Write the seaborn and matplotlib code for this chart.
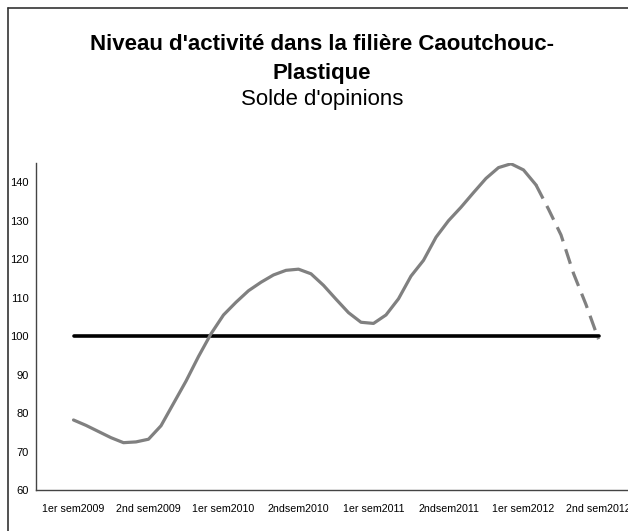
"""
Niveau d'activité dans la filière Caoutchouc-Plastique : solde d'opinions semestriel.
"""

import pandas as pd
import matplotlib
matplotlib.use("Agg")
import matplotlib.pyplot as plt
import seaborn as sns
from matplotlib.lines import Line2D

# Données
semestres = ["1er sem2009", "2nd sem2009", "1er sem2010", "2ndsem2010",
             "1er sem2011", "2ndsem2011", "1er sem2012", "2nd sem2012"]

# mois écoulés depuis le milieu du 1er semestre 2009
mois_observe = list(range(0, 38))
solde_observe = [78.2, 76.8, 75.2, 73.6, 72.3, 72.5, 73.2, 76.7, 82.5, 88.3,
                 94.7, 100.6, 105.5, 108.8, 111.8, 114.0, 115.9, 117.1, 117.4, 116.2,
                 113.2, 109.6, 106.1, 103.6, 103.3, 105.5, 109.7, 115.6, 119.7, 125.7,
                 130.0, 133.5, 137.3, 141.0, 143.8, 144.8, 143.2, 139.3]

mois_prevision = list(range(37, 43))
solde_prevision = [139.3, 133.0, 126.3, 116.3, 108.2, 99.2]

seuil = 100


def main():
    sns.set_style("white")
    plt.rcParams["font.family"] = ["Liberation Sans", "DejaVu Sans"]
    plt.rcParams["text.color"] = "black"
    plt.rcParams["xtick.labelcolor"] = "black"
    plt.rcParams["ytick.labelcolor"] = "black"

    # position en semestres (0.5 = centre du premier semestre)
    df_obs = pd.DataFrame({"pos": [0.5 + m / 6 for m in mois_observe], "solde": solde_observe})
    df_prev = pd.DataFrame({"pos": [0.5 + m / 6 for m in mois_prevision], "solde": solde_prevision})
    df_seuil = pd.DataFrame({"pos": [df_obs["pos"].iloc[0], df_prev["pos"].iloc[-1]],
                             "solde": [seuil, seuil]})

    fig = plt.figure(figsize=(6.28, 5.31), dpi=100)
    ax = fig.add_axes([36 / 628, 1 - 490 / 531, 600 / 628, (490 - 163) / 531])

    sns.lineplot(data=df_seuil, x="pos", y="solde", color="black", lw=2.6, ax=ax)
    sns.lineplot(data=df_obs, x="pos", y="solde", color="#808080", lw=2.3, ax=ax)
    sns.lineplot(data=df_prev, x="pos", y="solde", color="#808080", lw=2.3,
                 linestyle=(0, (4.8, 2.6)), ax=ax)

    ax.set_xlim(0, 8)
    ax.set_ylim(60, 145)
    ax.set_xlabel("")
    ax.set_ylabel("")

    ax.set_xticks(range(0, 9))
    ax.set_xticklabels([])
    ax.set_xticks([i + 0.5 for i in range(len(semestres))], minor=True)
    ax.set_xticklabels(semestres, minor=True, fontsize=7.7, color="black")
    ax.tick_params(axis="x", which="major", length=4, width=1, color="#444", direction="out")
    ax.tick_params(axis="x", which="minor", length=0, pad=10)

    ax.set_yticks(range(60, 141, 10))
    ax.tick_params(axis="y", length=4, width=1, color="#444", direction="out",
                   labelsize=8, labelcolor="black", pad=1)

    sns.despine(ax=ax)
    for s in ["left", "bottom"]:
        ax.spines[s].set_color("#444")
        ax.spines[s].set_linewidth(1)

    # titres
    fig.text(0.513, 1 - 45 / 531, "Niveau d'activité dans la filière Caoutchouc-",
             ha="center", va="center", fontsize=16, fontweight="bold", color="black")
    fig.text(0.513, 1 - 73 / 531, "Plastique", ha="center", va="center",
             fontsize=16, fontweight="bold", color="black")
    fig.text(0.513, 1 - 100 / 531, "Solde d'opinions", ha="center", va="center",
             fontsize=16, color="black")

    # cadre du graphique
    x0, y0 = 7.5 / 628, 1 - 7.5 / 531
    fig.add_artist(Line2D([x0, x0], [0, y0], transform=fig.transFigure, color="#333", lw=1.2))
    fig.add_artist(Line2D([x0, 1], [y0, y0], transform=fig.transFigure, color="#333", lw=1.2))

    fig.savefig("out.png", dpi=100)
    plt.close(fig)


if __name__ == "__main__":
    main()
